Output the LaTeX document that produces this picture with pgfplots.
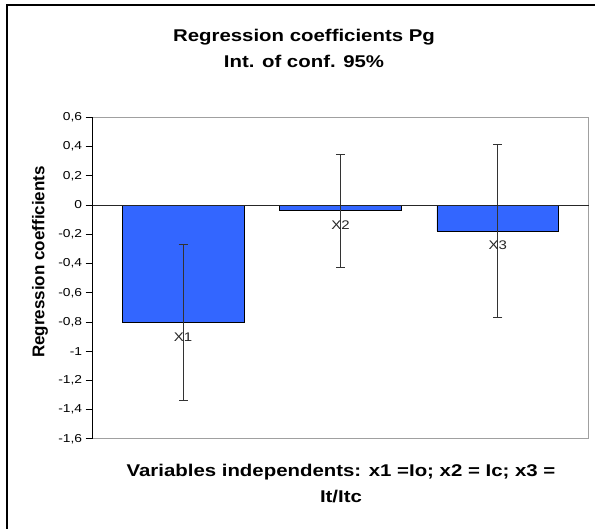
\documentclass[border=0pt]{standalone}
\usepackage{pgfplots}
\pgfplotsset{compat=1.18}
\usepackage{pgfplotstable}
\usepackage{graphicx}
\usepackage{fontspec}
\setmainfont{Liberation Sans}
\definecolor{barblue}{HTML}{3366FF}
\definecolor{framegray}{HTML}{A0A0A0}
\newcommand{\sx}[1]{\scalebox{1.2}[1]{#1}}

% coefficients with half-width of the 95% interval
\pgfplotstableread{
x y err lab
0 -0.805 0.535 X1
1 -0.039 0.386 X2
2 -0.177 0.590 X3
}\coef

\begin{document}
\begin{tikzpicture}[x=1pt,y=1pt]
\path[use as bounding box] (0,0) rectangle (595,529);
\fill[white] (0,0) rectangle (595,529);
\draw[black,line width=2pt] (6.5,0) -- (6.5,523.5) -- (595,523.5);

\node[anchor=base,font=\fontsize{17}{20}\selectfont\bfseries] at (304,487) {\sx{Regression coefficients Pg}};
\node[anchor=base,font=\fontsize{17}{20}\selectfont\bfseries] at (304,461) {\sx{Int. of conf. 95\%}};
\node[anchor=base,font=\fontsize{17}{20}\selectfont\bfseries] at (341,52) {\sx{Variables independents: x1 =Io; x2 = Ic; x3 =}};
\node[anchor=base,font=\fontsize{17}{20}\selectfont\bfseries] at (341,26) {\sx{It/Itc}};
\node[rotate=90,font=\fontsize{17}{20}\selectfont\bfseries] at (40,267) {Regression coefficients};

\begin{axis}[at={(92.7pt,90pt)},anchor=south west,scale only axis,
  width=496pt,height=321.7pt,
  xmin=-0.575,xmax=2.578,ymin=-1.6,ymax=0.6,
  axis line style={framegray,line width=1pt},
  xtick=\empty,ytick pos=left,
  ytick={-1.6,-1.4,-1.2,-1,-0.8,-0.6,-0.4,-0.2,0,0.2,0.4,0.6},
  yticklabels={{\sx{-1,6}},{\sx{-1,4}},{\sx{-1,2}},{\sx{-1}},{\sx{-0,8}},{\sx{-0,6}},{\sx{-0,4}},{\sx{-0,2}},{\sx{0}},{\sx{0,2}},{\sx{0,4}},{\sx{0,6}}},
  y tick label style={font=\fontsize{11.5}{13}\selectfont},
  tick style={black,line width=1pt},
  tick align=outside,major tick length=7pt,
  ybar,bar width=121.7pt,bar shift=0pt,
  point meta=explicit symbolic,
  nodes near coords={\sx{\pgfplotspointmeta}},
  nodes near coords style={anchor=north,yshift=-6pt,font=\fontsize{12.5}{14}\selectfont,text=black!85},
  clip=false]
\addplot[fill=barblue,draw=black,line width=0.8pt,
  error bars/.cd,y dir=both,y explicit,
  error bar style={line width=1pt,black!80},
  error mark options={rotate=90,mark size=4.5pt,line width=1pt,black!80}]
  table[x=x,y=y,y error=err,meta=lab]{\coef};
\draw[black,line width=1pt] (rel axis cs:0,0) -- (rel axis cs:0,1);
\draw[black!85,line width=1pt] (axis cs:-0.575,0) -- (axis cs:2.578,0);
\end{axis}
\end{tikzpicture}
\end{document}
